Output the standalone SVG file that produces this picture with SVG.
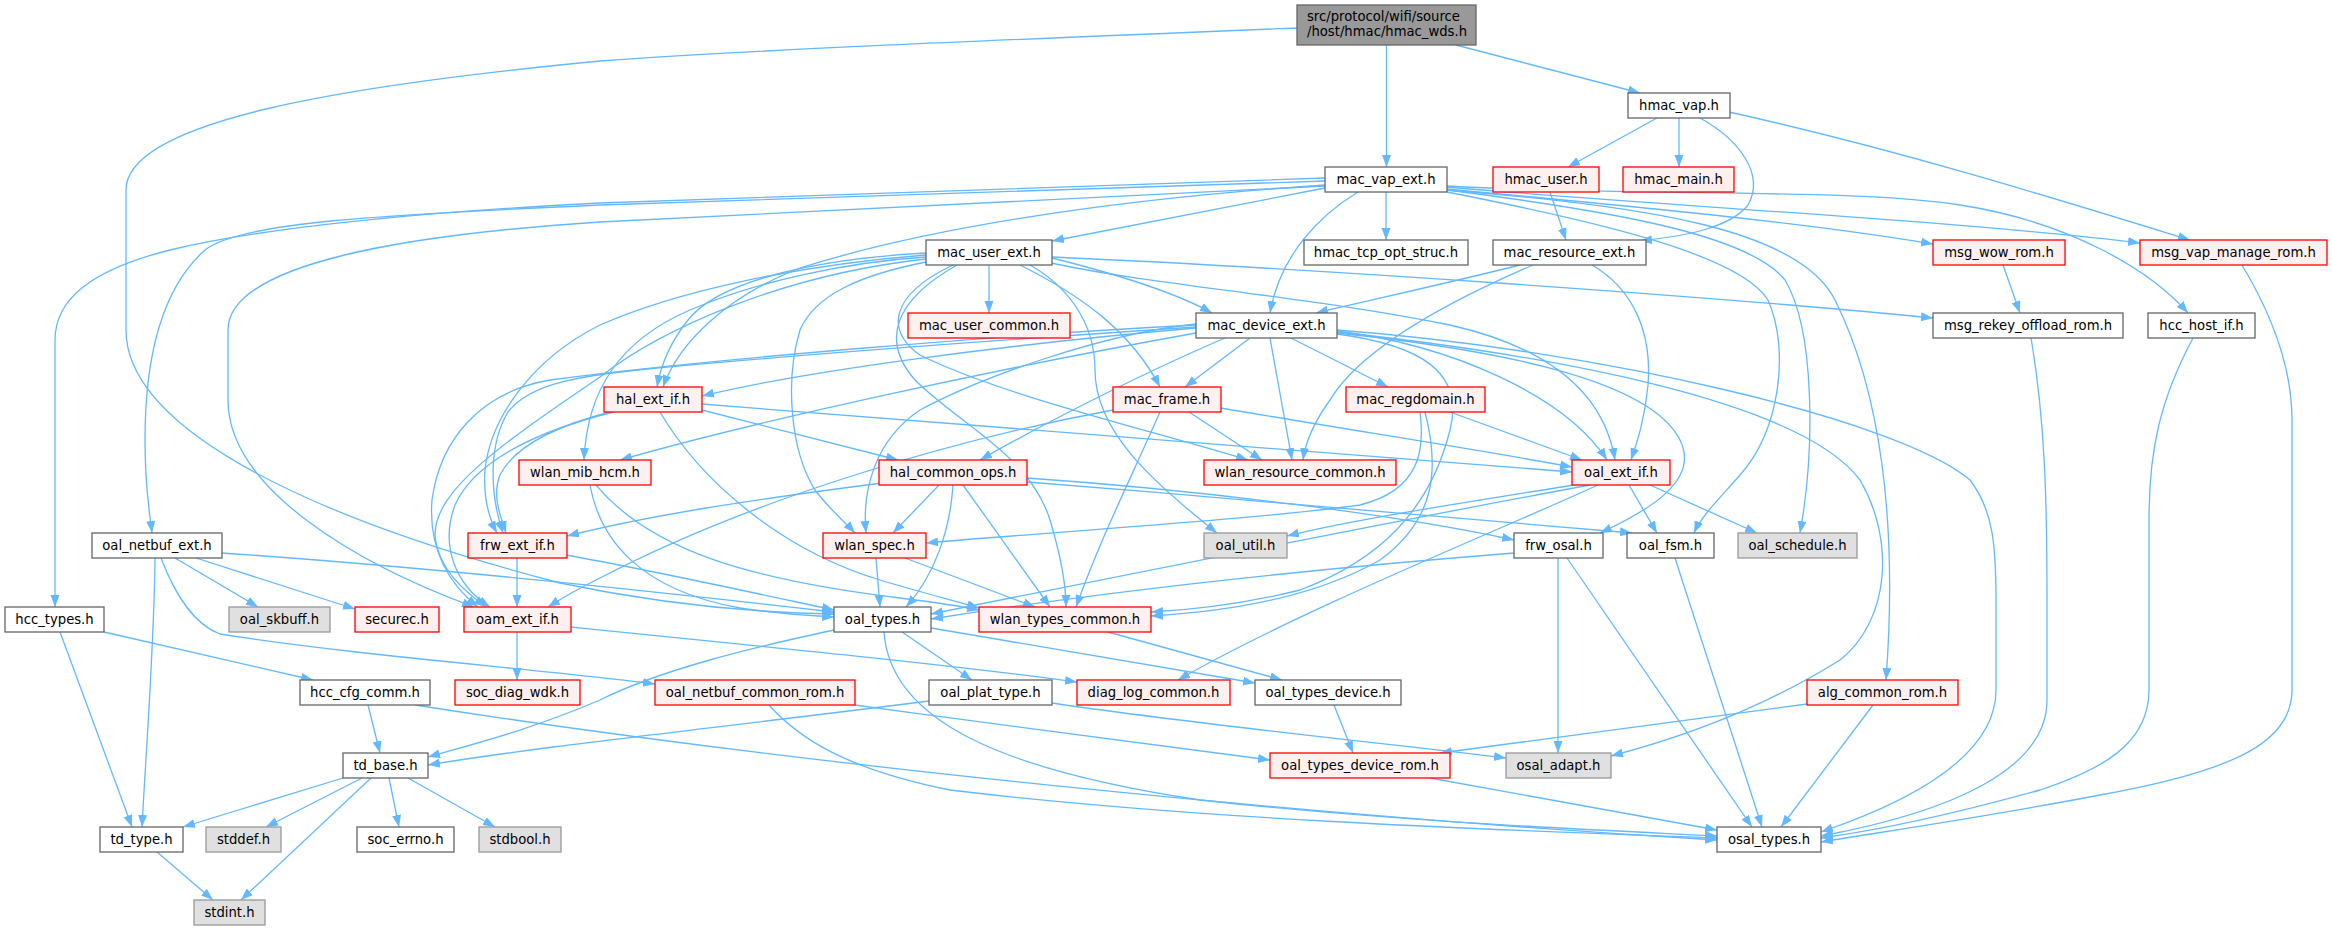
<svg xmlns="http://www.w3.org/2000/svg" width="2332" height="931" viewBox="0 0 2332 931">
<style>
.e{fill:none;stroke:#63B8FF;stroke-width:1.3;marker-end:url(#a)}
.n rect{fill:#FFFFFF;stroke:#666666;stroke-width:1.3}
.r rect{fill:#FFF0F0;stroke:#FF0000;stroke-width:1.3}
.g rect{fill:#E0E0E0;stroke:#999999;stroke-width:1.3}
.root rect{fill:#999999;stroke:#666666;stroke-width:1.3}
text{font-family:"DejaVu Sans","Liberation Sans",sans-serif;font-size:13.2px;fill:#000000;text-anchor:middle}
.root text{text-anchor:start}
</style>
<defs>
<marker id="a" markerUnits="userSpaceOnUse" markerWidth="13" markerHeight="10" refX="12" refY="4.5" orient="auto">
<path d="M0,0 L12,4.5 L0,9 z" fill="#63B8FF"/>
</marker>
</defs>
<rect width="2332" height="931" fill="#FFFFFF"/>
<g id="edges">
<path class="e" d="M1386.5,45 L1386.5,167"/>
<path class="e" d="M1456,45 L1640,93"/>
<path class="e" d="M1297,28 C1000,40 750,50 600,61 C350,85 126,120 126,190 L126,330 C126,420 280,510 560,583 C680,608 770,613 834,614"/>
<path class="e" d="M1386,192 L1386,240"/>
<path class="e" d="M1325,188 L1052,241"/>
<path class="e" d="M1358,192 C1320,215 1280,255 1270,313"/>
<path class="e" d="M1325,185 C1100,200 920,230 800,268 C730,295 680,340 663,387"/>
<path class="e" d="M1325,178 C1000,188 750,196 600,203 C420,212 260,228 170,250 C90,270 55,300 55,340 L55,607"/>
<path class="e" d="M1325,181 C1000,191 750,199 600,205 C380,215 240,222 205,250 C160,290 145,360 145,440 C145,490 150,515 152,533"/>
<path class="e" d="M1325,186 C1050,198 800,212 600,222 C400,235 228,265 228,330 L228,400 C228,490 360,565 474,607"/>
<path class="e" d="M1447,189 C1650,208 1800,222 1933,244"/>
<path class="e" d="M1447,187 C1650,205 1950,220 2140,243"/>
<path class="e" d="M1447,186 C1650,197 1850,188 1960,205 C2070,222 2150,270 2188,313"/>
<path class="e" d="M1447,190 C1620,212 1750,236 1785,280 C1815,330 1815,450 1800,533"/>
<path class="e" d="M1447,190 C1650,206 1800,230 1835,300 C1880,390 1898,520 1886,680"/>
<path class="e" d="M1447,192 C1600,222 1740,255 1768,300 C1790,350 1780,430 1740,475 C1720,498 1702,515 1694,533"/>
<path class="e" d="M1657,118 L1568,167"/>
<path class="e" d="M1679,118 L1679,167"/>
<path class="e" d="M1700,118 C1740,140 1765,175 1748,205 C1730,228 1685,236 1640,241"/>
<path class="e" d="M1729,112 C1900,150 2060,200 2190,240"/>
<path class="e" d="M1550,192 L1566,240"/>
<path class="e" d="M1520,265 C1440,285 1370,300 1316,313"/>
<path class="e" d="M1533,265 C1440,305 1360,350 1330,400 C1312,425 1305,445 1303,460"/>
<path class="e" d="M1592,265 C1635,290 1652,335 1648,385 C1645,420 1636,445 1631,460"/>
<path class="e" d="M989,265 L989,313"/>
<path class="e" d="M1052,258 C1120,275 1180,295 1212,313"/>
<path class="e" d="M1052,257 C1300,268 1700,295 1933,318"/>
<path class="e" d="M926,253 C800,260 715,285 688,320 C668,345 660,370 657,387"/>
<path class="e" d="M926,255 C800,265 680,290 600,325 C530,360 490,420 485,470 C483,500 490,520 497,533"/>
<path class="e" d="M926,259 C780,275 660,330 600,377 C500,445 435,490 435,535 C438,572 470,595 486,607"/>
<path class="e" d="M926,257 C850,262 760,280 690,310 C620,340 587,390 584,460"/>
<path class="e" d="M926,262 C860,275 815,295 800,330 C785,380 790,450 815,490 C830,510 845,522 855,533"/>
<path class="e" d="M957,265 C895,300 880,340 915,380 C960,425 1030,455 1050,520 C1062,560 1066,585 1066,607"/>
<path class="e" d="M953,265 C890,295 885,330 920,355 C1000,395 1150,430 1248,460"/>
<path class="e" d="M1020,265 C1080,295 1130,330 1160,387"/>
<path class="e" d="M1030,265 C1065,285 1095,320 1095,370 C1095,430 1150,480 1217,533"/>
<path class="e" d="M1047,262 C1150,285 1300,295 1450,325 C1560,350 1605,400 1615,460"/>
<path class="e" d="M1196,328 C1000,345 800,372 702,396"/>
<path class="e" d="M1250,338 L1185,387"/>
<path class="e" d="M1291,338 L1388,387"/>
<path class="e" d="M1270,338 L1292,460"/>
<path class="e" d="M1337,331 C1450,345 1565,395 1607,460"/>
<path class="e" d="M1225,338 C1150,370 1050,420 980,460"/>
<path class="e" d="M1196,333 C1000,368 760,420 620,460"/>
<path class="e" d="M1196,324 C1100,334 980,378 920,410 C875,440 862,490 866,533"/>
<path class="e" d="M1196,327 C1000,340 800,355 667,367 C580,375 530,383 508,412 C488,445 490,495 503,533"/>
<path class="e" d="M1196,325 C1000,335 700,360 550,380 C480,392 440,440 432,500 C428,550 450,585 478,607"/>
<path class="e" d="M1337,334 C1420,345 1465,372 1450,430 C1430,510 1380,560 1300,590 C1240,605 1190,610 1151,612"/>
<path class="e" d="M1337,333 C1500,350 1650,380 1680,440 C1700,480 1650,510 1600,533"/>
<path class="e" d="M1337,332 C1550,355 1800,400 1860,480 C1895,540 1890,620 1840,660 C1760,710 1680,738 1611,756"/>
<path class="e" d="M1337,330 C1600,350 1900,420 1970,480 C1993,510 1996,545 1996,600 L1996,690 C1996,760 1900,805 1821,832"/>
<path class="e" d="M2003,265 L2020,313"/>
<path class="e" d="M2031,338 C2045,420 2047,500 2047,600 L2047,700 C2047,770 1950,812 1821,836"/>
<path class="e" d="M2193,338 C2160,400 2149,450 2149,520 L2149,690 C2149,745 2100,770 2040,790 C1950,815 1880,830 1821,838"/>
<path class="e" d="M2242,265 C2275,320 2292,370 2292,420 L2292,690 C2292,740 2240,770 2100,795 C1980,818 1880,832 1821,842"/>
<path class="e" d="M1450,412 L1582,460"/>
<path class="e" d="M1420,412 C1425,450 1420,490 1360,505 C1250,520 1050,532 926,543"/>
<path class="e" d="M1425,412 C1440,470 1435,520 1380,560 C1310,600 1220,612 1151,616"/>
<path class="e" d="M1221,408 C1350,430 1480,450 1572,467"/>
<path class="e" d="M1189,412 L1262,460"/>
<path class="e" d="M1160,412 C1130,480 1100,540 1076,607"/>
<path class="e" d="M1113,410 C950,440 750,500 600,578 C580,588 562,598 548,607"/>
<path class="e" d="M702,410 L898,460"/>
<path class="e" d="M702,404 C1000,428 1300,450 1572,472"/>
<path class="e" d="M660,412 C700,480 780,550 880,580 C920,592 955,601 979,608"/>
<path class="e" d="M610,412 C560,425 515,445 500,475 C492,495 500,515 506,533"/>
<path class="e" d="M614,412 C540,430 475,460 455,505 C440,545 455,585 490,607"/>
<path class="e" d="M590,485 C600,540 640,590 740,608 C780,614 810,616 834,617"/>
<path class="e" d="M596,485 C650,550 750,580 900,598 C940,603 960,606 979,610"/>
<path class="e" d="M939,485 L893,533"/>
<path class="e" d="M953,485 C950,530 935,575 906,607"/>
<path class="e" d="M963,485 L1050,607"/>
<path class="e" d="M882,483 C750,500 650,515 567,536"/>
<path class="e" d="M1027,478 C1200,490 1400,515 1514,540"/>
<path class="e" d="M1027,482 C1250,500 1500,520 1632,533"/>
<path class="e" d="M876,558 L880,607"/>
<path class="e" d="M905,558 L1035,607"/>
<path class="e" d="M1580,484 C1450,505 1350,520 1287,536"/>
<path class="e" d="M1590,485 C1400,520 1100,580 931,614"/>
<path class="e" d="M1598,485 C1500,530 1300,610 1178,680"/>
<path class="e" d="M1629,485 L1657,533"/>
<path class="e" d="M1650,485 L1757,533"/>
<path class="e" d="M1514,553 C1300,570 1100,592 931,619"/>
<path class="e" d="M1558,558 L1558,753"/>
<path class="e" d="M1567,558 L1752,827"/>
<path class="e" d="M1675,558 L1762,827"/>
<path class="e" d="M1807,704 C1650,725 1500,745 1440,753"/>
<path class="e" d="M1873,705 L1781,827"/>
<path class="e" d="M155,558 C154,650 146,750 142,827"/>
<path class="e" d="M175,558 L258,607"/>
<path class="e" d="M196,558 L355,609"/>
<path class="e" d="M222,553 C400,565 600,585 834,612"/>
<path class="e" d="M161,558 C175,595 195,625 220,634 C350,655 550,670 655,684"/>
<path class="e" d="M60,632 L132,827"/>
<path class="e" d="M104,632 L313,680"/>
<path class="e" d="M368,705 L380,753"/>
<path class="e" d="M415,705 C800,765 1300,815 1717,840"/>
<path class="e" d="M517,558 L517,607"/>
<path class="e" d="M566,555 C650,570 750,592 834,610"/>
<path class="e" d="M517,632 L517,680"/>
<path class="e" d="M571,627 C800,650 950,665 1077,682"/>
<path class="e" d="M834,630 C750,648 660,670 600,700 C530,730 470,745 428,757"/>
<path class="e" d="M902,632 L972,680"/>
<path class="e" d="M931,628 L1255,683"/>
<path class="e" d="M884,632 C890,720 1000,770 1200,800 C1400,822 1600,830 1717,836"/>
<path class="e" d="M1108,632 L1282,680"/>
<path class="e" d="M855,705 C1000,725 1150,745 1270,760"/>
<path class="e" d="M769,705 C800,740 850,770 950,790 C1200,820 1500,830 1717,838"/>
<path class="e" d="M929,701 C700,730 550,745 428,765"/>
<path class="e" d="M1052,703 C1200,725 1400,745 1506,758"/>
<path class="e" d="M1334,705 L1353,753"/>
<path class="e" d="M1430,778 C1550,800 1650,818 1717,830"/>
<path class="e" d="M343,778 L183,827"/>
<path class="e" d="M362,778 L266,827"/>
<path class="e" d="M371,778 L241,900"/>
<path class="e" d="M389,778 L399,827"/>
<path class="e" d="M408,778 L495,827"/>
<path class="e" d="M157,852 L213,900"/>
</g>
<g id="node-root" class="root"><rect x="1297" y="5" width="179" height="40"/><text x="1307" y="21">src/protocol/wifi/source</text><text x="1307" y="36">/host/hmac/hmac_wds.h</text></g>
<g id="node-mac_vap_ext" class="n"><rect x="1325" y="167" width="122" height="25"/><text x="1386" y="184">mac_vap_ext.h</text></g>
<g id="node-hmac_vap" class="n"><rect x="1628" y="93" width="102" height="25"/><text x="1679" y="110">hmac_vap.h</text></g>
<g id="node-hmac_user" class="r"><rect x="1493" y="167" width="106" height="25"/><text x="1546" y="184">hmac_user.h</text></g>
<g id="node-hmac_main" class="r"><rect x="1623" y="167" width="111" height="25"/><text x="1678.5" y="184">hmac_main.h</text></g>
<g id="node-hmac_tcp_opt_struc" class="n"><rect x="1304" y="240" width="164" height="25"/><text x="1386" y="257">hmac_tcp_opt_struc.h</text></g>
<g id="node-mac_resource_ext" class="n"><rect x="1493" y="240" width="153" height="25"/><text x="1569.5" y="257">mac_resource_ext.h</text></g>
<g id="node-mac_user_ext" class="n"><rect x="926" y="240" width="126" height="25"/><text x="989" y="257">mac_user_ext.h</text></g>
<g id="node-msg_wow_rom" class="r"><rect x="1933" y="240" width="132" height="25"/><text x="1999" y="257">msg_wow_rom.h</text></g>
<g id="node-msg_vap_manage_rom" class="r"><rect x="2140" y="240" width="187" height="25"/><text x="2233.5" y="257">msg_vap_manage_rom.h</text></g>
<g id="node-mac_device_ext" class="n"><rect x="1196" y="313" width="141" height="25"/><text x="1266.5" y="330">mac_device_ext.h</text></g>
<g id="node-mac_user_common" class="r"><rect x="908" y="313" width="162" height="25"/><text x="989" y="330">mac_user_common.h</text></g>
<g id="node-msg_rekey_offload_rom" class="n"><rect x="1933" y="313" width="190" height="25"/><text x="2028" y="330">msg_rekey_offload_rom.h</text></g>
<g id="node-hcc_host_if" class="n"><rect x="2148" y="313" width="107" height="25"/><text x="2201.5" y="330">hcc_host_if.h</text></g>
<g id="node-hal_ext_if" class="r"><rect x="604" y="387" width="98" height="25"/><text x="653" y="404">hal_ext_if.h</text></g>
<g id="node-mac_frame" class="r"><rect x="1113" y="387" width="108" height="25"/><text x="1167" y="404">mac_frame.h</text></g>
<g id="node-mac_regdomain" class="r"><rect x="1346" y="387" width="139" height="25"/><text x="1415.5" y="404">mac_regdomain.h</text></g>
<g id="node-wlan_mib_hcm" class="r"><rect x="519" y="460" width="132" height="25"/><text x="585" y="477">wlan_mib_hcm.h</text></g>
<g id="node-hal_common_ops" class="r"><rect x="879" y="460" width="148" height="25"/><text x="953" y="477">hal_common_ops.h</text></g>
<g id="node-wlan_resource_common" class="r"><rect x="1204" y="460" width="192" height="25"/><text x="1300" y="477">wlan_resource_common.h</text></g>
<g id="node-oal_ext_if" class="r"><rect x="1572" y="460" width="98" height="25"/><text x="1621" y="477">oal_ext_if.h</text></g>
<g id="node-oal_netbuf_ext" class="n"><rect x="92" y="533" width="130" height="25"/><text x="157" y="550">oal_netbuf_ext.h</text></g>
<g id="node-frw_ext_if" class="r"><rect x="468" y="533" width="99" height="25"/><text x="517.5" y="550">frw_ext_if.h</text></g>
<g id="node-wlan_spec" class="r"><rect x="823" y="533" width="103" height="25"/><text x="874.5" y="550">wlan_spec.h</text></g>
<g id="node-oal_util" class="g"><rect x="1204" y="533" width="83" height="25"/><text x="1245.5" y="550">oal_util.h</text></g>
<g id="node-frw_osal" class="n"><rect x="1514" y="533" width="89" height="25"/><text x="1558.5" y="550">frw_osal.h</text></g>
<g id="node-oal_fsm" class="n"><rect x="1627" y="533" width="87" height="25"/><text x="1670.5" y="550">oal_fsm.h</text></g>
<g id="node-oal_schedule" class="g"><rect x="1738" y="533" width="119" height="25"/><text x="1797.5" y="550">oal_schedule.h</text></g>
<g id="node-hcc_types" class="n"><rect x="5" y="607" width="99" height="25"/><text x="54.5" y="624">hcc_types.h</text></g>
<g id="node-oal_skbuff" class="g"><rect x="229" y="607" width="101" height="25"/><text x="279.5" y="624">oal_skbuff.h</text></g>
<g id="node-securec" class="r"><rect x="355" y="607" width="84" height="25"/><text x="397" y="624">securec.h</text></g>
<g id="node-oam_ext_if" class="r"><rect x="464" y="607" width="107" height="25"/><text x="517.5" y="624">oam_ext_if.h</text></g>
<g id="node-oal_types" class="n"><rect x="834" y="607" width="97" height="25"/><text x="882.5" y="624">oal_types.h</text></g>
<g id="node-wlan_types_common" class="r"><rect x="979" y="607" width="172" height="25"/><text x="1065" y="624">wlan_types_common.h</text></g>
<g id="node-hcc_cfg_comm" class="n"><rect x="300" y="680" width="130" height="25"/><text x="365" y="697">hcc_cfg_comm.h</text></g>
<g id="node-soc_diag_wdk" class="r"><rect x="455" y="680" width="125" height="25"/><text x="517.5" y="697">soc_diag_wdk.h</text></g>
<g id="node-oal_netbuf_common_rom" class="r"><rect x="655" y="680" width="200" height="25"/><text x="755" y="697">oal_netbuf_common_rom.h</text></g>
<g id="node-oal_plat_type" class="n"><rect x="929" y="680" width="123" height="25"/><text x="990.5" y="697">oal_plat_type.h</text></g>
<g id="node-diag_log_common" class="r"><rect x="1077" y="680" width="153" height="25"/><text x="1153.5" y="697">diag_log_common.h</text></g>
<g id="node-oal_types_device" class="n"><rect x="1255" y="680" width="146" height="25"/><text x="1328" y="697">oal_types_device.h</text></g>
<g id="node-alg_common_rom" class="r"><rect x="1807" y="680" width="151" height="25"/><text x="1882.5" y="697">alg_common_rom.h</text></g>
<g id="node-td_base" class="n"><rect x="343" y="753" width="85" height="25"/><text x="385.5" y="770">td_base.h</text></g>
<g id="node-oal_types_device_rom" class="r"><rect x="1270" y="753" width="180" height="25"/><text x="1360" y="770">oal_types_device_rom.h</text></g>
<g id="node-osal_adapt" class="g"><rect x="1506" y="753" width="105" height="25"/><text x="1558.5" y="770">osal_adapt.h</text></g>
<g id="node-td_type" class="n"><rect x="100" y="827" width="83" height="25"/><text x="141.5" y="844">td_type.h</text></g>
<g id="node-stddef" class="g"><rect x="206" y="827" width="75" height="25"/><text x="243.5" y="844">stddef.h</text></g>
<g id="node-soc_errno" class="n"><rect x="357" y="827" width="97" height="25"/><text x="405.5" y="844">soc_errno.h</text></g>
<g id="node-stdbool" class="g"><rect x="479" y="827" width="82" height="25"/><text x="520" y="844">stdbool.h</text></g>
<g id="node-osal_types" class="n"><rect x="1717" y="827" width="104" height="25"/><text x="1769" y="844">osal_types.h</text></g>
<g id="node-stdint" class="g"><rect x="194" y="900" width="71" height="25"/><text x="229.5" y="917">stdint.h</text></g>
</svg>
